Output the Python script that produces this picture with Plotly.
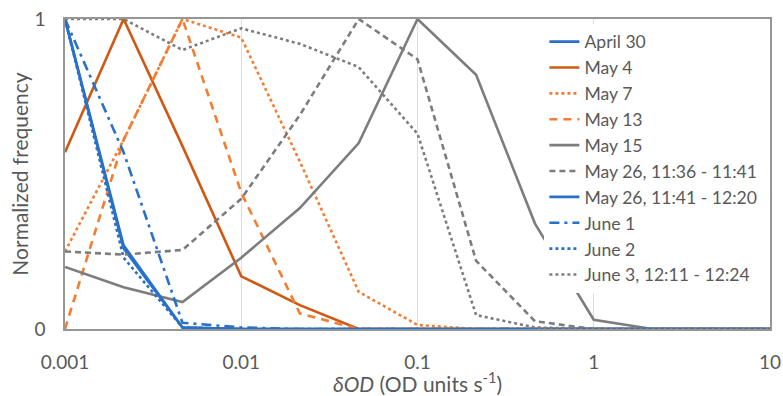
import plotly.graph_objects as go

x_vals = [0.001, 0.00215, 0.00464, 0.01, 0.0215, 0.0464, 0.1, 0.215, 0.464, 1, 2.15, 4.64, 10]

names = ["April 30", "May 4", "May 7", "May 13", "May 15",
         "May 26, 11:36 - 11:41", "May 26, 11:41 - 12:20", "June 1", "June 2",
         "June 3, 12:11 - 12:24"]

april30 = [1, 0.26, 0.005, 0, 0, 0, 0, 0, 0, 0, 0, 0, 0]
may4 = [0.57, 1, 0.59, 0.17, 0.077, 0, 0, 0, 0, 0, 0, 0, 0]
may7 = [0.25, 0.61, 1, 0.94, 0.54, 0.12, 0.013, 0, 0, 0, 0, 0, 0]
may13 = [0, 0.61, 1, 0.44, 0.05, 0, 0, 0, 0, 0, 0, 0, 0]
may15 = [0.2, 0.135, 0.087, 0.23, 0.39, 0.6, 1, 0.82, 0.34, 0.03, 0, 0, 0]
may26a = [0.25, 0.24, 0.255, 0.42, 0.69, 1, 0.87, 0.22, 0.025, 0, 0, 0, 0]
may26b = [1, 0.27, 0.005, 0, 0, 0, 0, 0, 0, 0, 0, 0, 0]
june1 = [1, 0.57, 0.02, 0.005, 0, 0, 0, 0, 0, 0, 0, 0, 0]
june2 = [1, 0.23, 0.005, 0, 0, 0, 0, 0, 0, 0, 0, 0, 0]
june3 = [1, 1, 0.9, 0.97, 0.92, 0.845, 0.63, 0.045, 0.005, 0, 0, 0, 0]

series = [april30, may4, may7, may13, may15, may26a, may26b, june1, june2, june3]

blue = "rgb(40,112,200)"
orange_dark = "rgb(208,88,18)"
orange = "rgb(244,125,50)"
gray = "rgb(125,125,125)"

colors = [blue, orange_dark, orange, orange, gray, gray, blue, blue, blue, gray]
dashes = ["solid", "solid", "dot", "8px,6px", "solid", "6px,4px", "solid",
          "10px,5px,3px,5px", "dot", "dot"]

fig = go.Figure()
for name, ys, c, d in zip(names, series, colors, dashes):
    fig.add_trace(go.Scatter(
        x=x_vals, y=ys, name=name, mode="lines",
        line=dict(color=c, dash=d, width=2.6),
    ))

font_family = "Lato, 'Open Sans', sans-serif"
txt = "rgb(89,89,89)"
fig.update_layout(
    width=783, height=396,
    margin=dict(l=65, r=13, t=19, b=67, autoexpand=False),
    paper_bgcolor="white", plot_bgcolor="white",
    font=dict(family=font_family, size=17, color=txt),
    showlegend=True,
    legend=dict(
        x=0.680, y=0.985, xanchor="left", yanchor="top",
        bgcolor="white", borderwidth=0,
        font=dict(family=font_family, size=17.6, color=txt),
        tracegroupgap=0, itemwidth=30,
    ),
    xaxis=dict(
        type="log", range=[-3, 1], automargin=False,
        tickvals=[0.001, 0.01, 0.1, 1, 10],
        ticktext=["0.001", "0.01", "0.1", "1", "10"],
        showgrid=True, gridcolor="rgb(222,222,222)", gridwidth=1,
        showline=True, linecolor="rgb(150,150,150)", linewidth=1.5, mirror=True,
        ticks="", zeroline=False, ticklabelstandoff=15,
        tickfont=dict(size=19),
        title=dict(text="<i>δOD</i> (OD units s<sup>-1</sup>)", font=dict(size=21), standoff=10),
    ),
    yaxis=dict(
        range=[0, 1], tickvals=[0, 1], ticktext=["0", "1"], automargin=False,
        showgrid=False, zeroline=False,
        showline=True, linecolor="rgb(150,150,150)", linewidth=1.5, mirror=True,
        ticks="", tickfont=dict(size=19), ticklabelstandoff=14,
        title=dict(text="Normalized frequency", font=dict(size=21), standoff=0),
    ),
)

fig.write_html("out.html")
